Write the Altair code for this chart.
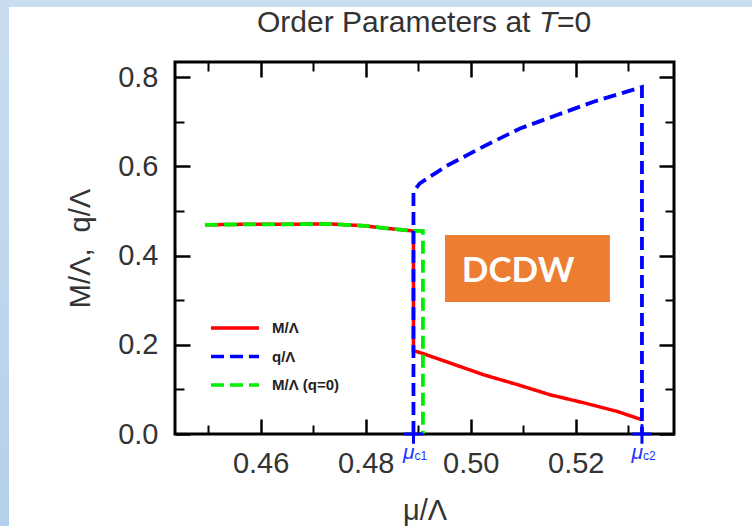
import altair as alt
import pandas as pd

# ---------------- data ----------------
series_names = ["M/Λ", "q/Λ", "M/Λ (q=0)"]
series_colors = ["#ff0000", "#0000ff", "#00ee00"]
series_dash = [[1, 0], [13, 6], [13, 6]]

m_x = [0.4494, 0.4560, 0.4637, 0.4732, 0.4795, 0.4840, 0.4884, 0.4891, 0.4891,
       0.4910, 0.4961, 0.5024, 0.5088, 0.5151, 0.5215, 0.5278, 0.5326]
m_y = [0.469, 0.470, 0.470, 0.471, 0.467, 0.461, 0.456, 0.455, 0.187,
       0.180, 0.159, 0.133, 0.111, 0.088, 0.070, 0.051, 0.032]

q_x = [0.4891, 0.4891, 0.4903, 0.4954, 0.5030, 0.5094, 0.5164, 0.5234, 0.5310, 0.5326, 0.5326]
q_y = [0.0, 0.543, 0.562, 0.601, 0.648, 0.685, 0.715, 0.745, 0.772, 0.778, 0.0]

m0_x = [0.4494, 0.4560, 0.4637, 0.4732, 0.4795, 0.4840, 0.4884, 0.4909, 0.4909]
m0_y = [0.469, 0.470, 0.470, 0.471, 0.467, 0.461, 0.456, 0.455, 0.0]

mu_c_values = [0.4891, 0.5326]
mu_c_subs = ["c1", "c2"]

x_tick_values = [0.45, 0.46, 0.47, 0.48, 0.49, 0.50, 0.51, 0.52, 0.53]
y_tick_values = [0.0, 0.1, 0.2, 0.3, 0.4, 0.5, 0.6, 0.7, 0.8]

dcdw_label = "DCDW"
dcdw_x = [0.4951, 0.5265]
dcdw_y = [0.2960, 0.4463]
dcdw_text_pos = [0.4983, 0.3416]

title_parts = ["Order Parameters at ", "T", "=0"]

X_DOMAIN = [0.4437, 0.5387]
Y_DOMAIN = [0.0, 0.834]
W, H = 499, 372
PAD_L, PAD_T = 175, 62
FONT = "Liberation Sans"
TXT = "#333333"

# ---------------- tables ----------------
rows = []
for name, xs_, ys_ in [(series_names[0], m_x, m_y), (series_names[1], q_x, q_y),
                       (series_names[2], m0_x, m0_y)]:
    for i, (a, b) in enumerate(zip(xs_, ys_)):
        rows.append({"series": name, "x": a, "y": b, "i": i})
lines_df = pd.DataFrame(rows)
mu_df = pd.DataFrame({"x": mu_c_values, "y": [0.0] * len(mu_c_values),
                      "sym": ["μ"] * len(mu_c_values), "sub": mu_c_subs})
box_df = pd.DataFrame({"x1": [dcdw_x[0]], "x2": [dcdw_x[1]], "y1": [dcdw_y[0]], "y2": [dcdw_y[1]],
                       "tx": [dcdw_text_pos[0]], "ty": [dcdw_text_pos[1]], "label": [dcdw_label]})
one = pd.DataFrame({"a": [0]})

# ---------------- scales / axes ----------------
xs = alt.Scale(domain=X_DOMAIN, nice=False, zero=False)
ys = alt.Scale(domain=Y_DOMAIN, nice=False, zero=False)

x_major = "round(datum.value*100)%2==0"
y_major = "round(datum.value*10)%2==0"

x_axis = alt.Axis(values=x_tick_values, domain=False, grid=False,
                  labelExpr=f"{x_major} ? format(datum.value, '.2f') : ''",
                  tickSize=alt.ExprRef(f"{x_major} ? -15 : -9"),
                  tickWidth=alt.ExprRef(f"{x_major} ? 2.5 : 2"), tickColor="black",
                  labelFont=FONT, labelFontSize=29, labelColor=TXT, labelPadding=30,
                  labelOverlap=False, labelFlush=False,
                  title="μ/Λ", titleFont=FONT, titleFontSize=29, titleFontWeight="normal",
                  titleColor=TXT, titlePadding=12)
y_axis = alt.Axis(values=y_tick_values, domain=False, grid=False,
                  labelExpr=f"{y_major} ? format(datum.value, '.1f') : ''",
                  tickSize=alt.ExprRef(f"{y_major} ? -15 : -9"),
                  tickWidth=alt.ExprRef(f"{y_major} ? 2.5 : 2"), tickColor="black",
                  labelFont=FONT, labelFontSize=29, labelColor=TXT, labelPadding=32,
                  labelOverlap=False, labelFlush=False,
                  title="M/Λ,\u00a0 q/Λ", titleFont=FONT, titleFontSize=29, titleFontWeight="normal",
                  titleColor=TXT, titlePadding=22)
x_mirror = alt.Axis(orient="top", values=x_tick_values, domain=False, grid=False, labels=False,
                    tickSize=alt.ExprRef(f"{x_major} ? -15 : -9"),
                    tickWidth=alt.ExprRef(f"{x_major} ? 2.5 : 2"), tickColor="black", title=None)
y_mirror = alt.Axis(orient="right", values=y_tick_values, domain=False, grid=False, labels=False,
                    tickSize=alt.ExprRef(f"{y_major} ? -15 : -9"),
                    tickWidth=alt.ExprRef(f"{y_major} ? 2.5 : 2"), tickColor="black", title=None)

legend = alt.Legend(title=None, orient="none", legendX=34, legendY=254, symbolType="stroke",
                    symbolSize=2304, symbolStrokeWidth=3.5, labelFont=FONT, labelFontSize=15,
                    labelFontWeight="bold", labelColor="#222222", labelOffset=11,
                    clipHeight=24, rowPadding=4.5)

color = alt.Color("series:N", scale=alt.Scale(domain=series_names, range=series_colors), legend=legend)
dash = alt.StrokeDash("series:N", scale=alt.Scale(domain=series_names, range=series_dash), legend=legend)

X = alt.X("x:Q", scale=xs, axis=x_axis)
Y = alt.Y("y:Q", scale=ys, axis=y_axis)


def series_layer(name, width):
    return alt.Chart(lines_df).transform_filter(alt.datum.series == name).mark_line(
        strokeWidth=width, strokeCap="butt", strokeJoin="miter").encode(
        x=X, y=Y, color=color, strokeDash=dash, order=alt.Order("i:Q"))


red = series_layer(series_names[0], 3.5)
green = series_layer(series_names[2], 3.8)
blue = series_layer(series_names[1], 3.8)

plus = alt.Chart(mu_df).mark_point(shape="M-1,0L1,0M0,-1L0,1", filled=False, size=380,
                                   strokeWidth=3, color="#0000ff", opacity=1).encode(x=X, y=Y)
mu_sym = alt.Chart(mu_df).mark_text(font=FONT, fontSize=21, fontStyle="italic", color="#2233ff",
                                    align="right", baseline="alphabetic", dx=1).encode(
    x=X, y=alt.value(H + 25), text="sym:N")
mu_sub = alt.Chart(mu_df).mark_text(font=FONT, fontSize=12, color="#2233ff", align="left",
                                    baseline="alphabetic", dx=1).encode(
    x=X, y=alt.value(H + 26), text="sub:N")

box = alt.Chart(box_df).mark_rect(color="#ED7D31").encode(
    x=alt.X("x1:Q", scale=xs, axis=x_axis), x2="x2:Q",
    y=alt.Y("y1:Q", scale=ys, axis=y_axis), y2="y2:Q")
box_text = alt.Chart(box_df).mark_text(font="Lato", fontWeight="bold", fontSize=35, color="white",
                                       align="left", baseline="alphabetic").encode(
    x=alt.X("tx:Q", scale=xs, axis=x_axis), y=alt.Y("ty:Q", scale=ys, axis=y_axis), text="label:N")

inner = alt.layer(red, green, blue, plus, mu_sym, mu_sub, box, box_text)

mirror = alt.Chart(lines_df).mark_point(opacity=0).encode(
    x=alt.X("x:Q", scale=xs, axis=x_mirror), y=alt.Y("y:Q", scale=ys, axis=y_mirror))

# slide background strips
strip_top = alt.Chart(one).mark_rect(color="#C9DDF0").encode(
    x=alt.value(-PAD_L), x2=alt.value(752 - PAD_L), y=alt.value(-PAD_T), y2=alt.value(7 - PAD_T))
strip_left = alt.Chart(one).mark_rect(color=alt.LinearGradient(
    gradient="linear", x1=0, x2=0, y1=0, y2=1,
    stops=[alt.GradientStop(color="#CADDF0", offset=0), alt.GradientStop(color="#B5D0EA", offset=1)])).encode(
    x=alt.value(-PAD_L), x2=alt.value(9 - PAD_L), y=alt.value(-PAD_T), y2=alt.value(526 - PAD_T))

# title in pieces (italic T)
t0 = 257
t_x = [t0 - PAD_L, t0 + 282 - PAD_L, t0 + 300 - PAD_L]
t_style = ["normal", "italic", "normal"]
title_layers = []
for txt, xx, st in zip(title_parts, t_x, t_style):
    title_layers.append(alt.Chart(pd.DataFrame({"t": [txt]})).mark_text(
        font=FONT, fontSize=30, fontStyle=st, color=TXT, align="left", baseline="alphabetic").encode(
        x=alt.value(xx), y=alt.value(32 - PAD_T), text="t:N"))

chart = alt.layer(strip_top, strip_left, inner, mirror, *title_layers).resolve_scale(
    x="independent", y="independent").properties(
    width=W, height=H, background="white",
    autosize=alt.AutoSizeParams(type="none"),
    padding={"left": PAD_L, "top": PAD_T, "right": 752 - PAD_L - W, "bottom": 526 - PAD_T - H}
).configure_view(stroke="black", strokeWidth=3)

chart.save("out.html", embed_options={"renderer": "svg", "actions": False})
